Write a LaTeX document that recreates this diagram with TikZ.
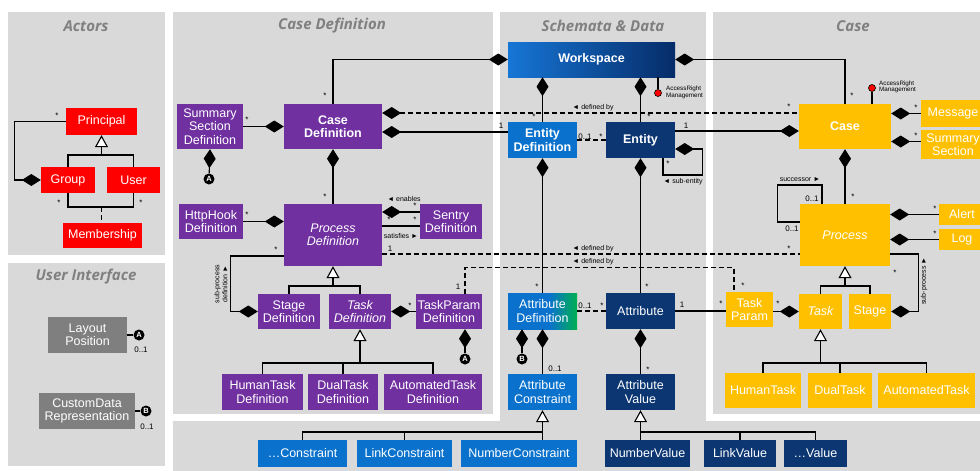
\documentclass[tikz,border=0pt]{standalone}
\usepackage{fontspec}
\setmainfont{Liberation Sans}
\newfontfamily\titlefont{Open Sans}
\usetikzlibrary{arrows.meta,calc}
\definecolor{panelbg}{HTML}{D9D9D9}
\definecolor{titlegray}{HTML}{808080}
\definecolor{actred}{HTML}{FF0000}
\definecolor{defpurple}{HTML}{7030A0}
\definecolor{uigray}{HTML}{7F7F7F}
\definecolor{schblue}{HTML}{0A72CD}
\definecolor{datanavy}{HTML}{0B3672}
\definecolor{caseamber}{HTML}{FFC000}
\definecolor{attrgreen}{HTML}{00B050}
\definecolor{wsleft}{HTML}{1676D6}
\definecolor{wsright}{HTML}{062C68}
\pgfdeclarehorizontalshading{attrdefshade}{100bp}{color(0bp)=(schblue); color(25bp)=(schblue); color(55bp)=(schblue); color(75bp)=(attrgreen); color(100bp)=(attrgreen)}
\begin{document}
\begin{tikzpicture}[x=1pt,y=-1pt,
  box/.style={draw=none, text=white, align=center, inner sep=0pt,
    font=\fontsize{12.5}{13.5}\selectfont},
  ptitle/.style={inner sep=0pt, text=titlegray, font=\titlefont\bfseries\itshape\fontsize{15}{16}\selectfont},
  conn/.style={line width=1.1pt, draw=black},
  comp/.style={conn, {Diamond[length=19pt,width=12pt]}-},
  gen/.style={conn, {Triangle[open,fill=white,length=12pt,width=13pt]}-},
  dashline/.style={conn, dash pattern=on 5pt off 3pt},
  lbl/.style={inner sep=0pt, font=\fontsize{8}{9}\selectfont},
  note/.style={inner sep=0pt, font=\fontsize{7}{8}\selectfont},
  tinytext/.style={inner sep=0pt, align=left, font=\fontsize{6.3}{6.5}\selectfont},
  circ/.style={circle, fill=black, text=white, inner sep=0pt, minimum size=11pt,
    font=\bfseries\fontsize{7.5}{7.5}\selectfont},
  rdot/.style={circle, fill=actred, draw=black, line width=0.6pt, minimum size=7pt, inner sep=0pt}
]
\useasboundingbox (0,0) rectangle (980,471);
\fill[white] (0,0) rectangle (980,471);

% ---------- panels ----------
\fill[panelbg] (8,12) rectangle (165,255);
\fill[panelbg] (8,263) rectangle (165,466);
\fill[panelbg] (173,12) rectangle (493,414);
\fill[panelbg] (500,12) rectangle (706,471);
\fill[panelbg] (173,421) rectangle (980,471);
\fill[panelbg] (713,12) rectangle (980,414);

\node[ptitle] (tact) at (86,26) {Actors};
\node[ptitle] (tui) at (86,277) {User Interface};
\node[ptitle] (tcd) at (332,26) {Case Definition};
\node[ptitle] (tsd) at (603,26) {Schemata \& Data};
\node[ptitle] (tcase) at (853,26) {Case};

% ---------- Actors ----------
\node[box, fill=actred, minimum width=71pt, minimum height=27pt] (principal) at (101.5,121.5) {Principal};
\node[box, fill=actred, minimum width=54pt, minimum height=26pt] (group) at (68,180) {Group};
\node[box, fill=actred, minimum width=53pt, minimum height=26pt] (user) at (133.5,180) {User};
\node[box, fill=actred, minimum width=79pt, minimum height=25pt] (membership) at (102.5,235.5) {Membership};

% ---------- User Interface ----------
\node[box, fill=uigray, minimum width=79pt, minimum height=36pt] (layout) at (87.5,335) {Layout\\Position};
\node[box, fill=uigray, minimum width=96pt, minimum height=36pt] (custom) at (87,411) {CustomData\\Representation};
\node[circ] (ca1) at (139,335) {A};
\node[circ] (cb1) at (146,411) {B};

% ---------- Case Definition ----------
\node[box, fill=defpurple, minimum width=66pt, minimum height=45pt] (ssd) at (210,126.5) {Summary\\Section\\Definition};
\node[box, fill=defpurple, minimum width=98pt, minimum height=45pt, font=\bfseries\fontsize{12.5}{13.5}\selectfont] (casedef) at (333,126.5) {Case\\Definition};
\node[box, fill=defpurple, minimum width=64pt, minimum height=35pt] (httphook) at (211,221.5) {HttpHook\\Definition};
\node[box, fill=defpurple, minimum width=98pt, minimum height=62pt, font=\itshape\fontsize{12.5}{13.5}\selectfont] (procdef) at (333,235) {Process\\Definition};
\node[box, fill=defpurple, minimum width=62pt, minimum height=35pt] (sentry) at (451,221.5) {Sentry\\Definition};
\node[box, fill=defpurple, minimum width=62pt, minimum height=35pt] (stagedef) at (289,311.5) {Stage\\Definition};
\node[box, fill=defpurple, minimum width=62pt, minimum height=35pt, font=\itshape\fontsize{12.5}{13.5}\selectfont] (taskdef) at (360,311.5) {Task\\Definition};
\node[box, fill=defpurple, minimum width=66pt, minimum height=35pt] (tpdef) at (449,311.5) {TaskParam\\Definition};
\node[box, fill=defpurple, minimum width=81pt, minimum height=36pt] (humantd) at (262.5,392) {HumanTask\\Definition};
\node[box, fill=defpurple, minimum width=70pt, minimum height=36pt] (dualtd) at (343,392) {DualTask\\Definition};
\node[box, fill=defpurple, minimum width=98pt, minimum height=36pt] (autotd) at (433,392) {AutomatedTask\\Definition};
\node[circ] (ca2) at (209,179) {A};
\node[circ] (ca3) at (465,359) {A};

% ---------- Schemata & Data ----------
\node[box, left color=wsleft, right color=wsright, minimum width=167pt, minimum height=35pt, font=\bfseries\fontsize{12.5}{13.5}\selectfont] (workspace) at (591.5,59.5) {Workspace};
\node[box, fill=schblue, minimum width=69pt, minimum height=36pt, font=\bfseries\fontsize{12.5}{13.5}\selectfont] (entdef) at (542.5,140) {Entity\\Definition};
\node[box, fill=datanavy, minimum width=69pt, minimum height=36pt, font=\bfseries\fontsize{12.5}{13.5}\selectfont] (entity) at (640.5,140) {Entity};
\node[box, shade, shading=attrdefshade, minimum width=69pt, minimum height=36pt] (attrdef) at (542.5,311) {Attribute\\Definition};
\node[box, fill=datanavy, minimum width=69pt, minimum height=36pt] (attr) at (640.5,311) {Attribute};
\node[box, fill=schblue, minimum width=69pt, minimum height=36pt] (attrcon) at (542.5,392) {Attribute\\Constraint};
\node[box, fill=datanavy, minimum width=69pt, minimum height=36pt] (attrval) at (640.5,392) {Attribute\\Value};
\node[box, fill=schblue, minimum width=89pt, minimum height=27pt] (con1) at (302.5,453.5) {…Constraint};
\node[box, fill=schblue, minimum width=95pt, minimum height=27pt] (con2) at (404.5,453.5) {LinkConstraint};
\node[box, fill=schblue, minimum width=116pt, minimum height=27pt] (con3) at (519,453.5) {NumberConstraint};
\node[box, fill=datanavy, minimum width=85pt, minimum height=27pt] (val1) at (647.5,453.5) {NumberValue};
\node[box, fill=datanavy, minimum width=72pt, minimum height=27pt] (val2) at (740,453.5) {LinkValue};
\node[box, fill=datanavy, minimum width=63pt, minimum height=27pt] (val3) at (815.5,453.5) {…Value};
\node[circ] (cb2) at (522,359) {B};
\node[rdot] (ar1) at (658,93) {};
\node[tinytext, anchor=west] (ar1t) at (666,92.5) {AccessRight\\Management};

% ---------- Case ----------
\node[box, fill=caseamber, minimum width=92pt, minimum height=45pt, font=\bfseries\fontsize{12.5}{13.5}\selectfont] (case) at (845,126.5) {Case};
\node[box, fill=caseamber, minimum width=64pt, minimum height=27pt] (message) at (953,113.5) {Message};
\node[box, fill=caseamber, minimum width=64pt, minimum height=29pt] (summ) at (953,144.5) {Summary\\Section};
\node[box, fill=caseamber, minimum width=90pt, minimum height=62pt, font=\itshape\fontsize{12.5}{13.5}\selectfont] (process) at (845,235) {Process};
\node[box, fill=caseamber, minimum width=46pt, minimum height=21pt] (alert) at (962,214.5) {Alert};
\node[box, fill=caseamber, minimum width=46pt, minimum height=21pt] (log) at (962,239.5) {Log};
\node[box, fill=caseamber, minimum width=47pt, minimum height=35pt] (taskparam) at (749.5,309.5) {Task\\Param};
\node[box, fill=caseamber, minimum width=43pt, minimum height=35pt, font=\itshape\fontsize{12.5}{13.5}\selectfont] (task) at (820.5,311.5) {Task};
\node[box, fill=caseamber, minimum width=42pt, minimum height=35pt] (stage) at (870,311.5) {Stage};
\node[box, fill=caseamber, minimum width=76pt, minimum height=35pt] (humant) at (763,390.5) {HumanTask};
\node[box, fill=caseamber, minimum width=64pt, minimum height=35pt] (dualt) at (840,390.5) {DualTask};
\node[box, fill=caseamber, minimum width=97pt, minimum height=35pt] (autot) at (926.5,390.5) {AutomatedTask};
\node[rdot] (ar2) at (872,88) {};
\node[tinytext, anchor=west] (ar2t) at (879,87) {AccessRight\\Management};

% ---------- junction points ----------
\coordinate (gj) at (101.5,155);
\coordinate (mj) at (101.5,207);
\coordinate (pdj) at (333,286);
\coordinate (tdj) at (360,363);
\coordinate (acj) at (542.5,432);
\coordinate (avj) at (640.5,432);
\coordinate (pj) at (845,286);
\coordinate (tj) at (820.5,363);

% ---------- Actors connectors ----------
\draw[gen] (principal.south) -- (gj);
\draw[conn] (group.north) |- (gj) -| (user.north);
\draw[comp] (group.west) -- ++(-26,0) |- (principal.west);
\draw[conn] (group.south) |- (mj) -| (user.south);
\draw[dashline] (mj) -- (mj |- membership.north);
\node[lbl] (s1) at (57,116) {*};
\node[lbl] (s2) at (59,203) {*};
\node[lbl] (s3) at (141,203) {*};

% ---------- UI connectors ----------
\draw[conn] (layout.east) -- (ca1);
\draw[conn] (custom.east) -- (cb1);
\node[lbl] (m1) at (141,350) {0..1};
\node[lbl] (m2) at (147,427) {0..1};

% ---------- Case Definition connectors ----------
\draw[comp] (workspace.west) -| (casedef.north);
\draw[comp] (casedef.west) -- (ssd.east);
\draw[comp] (ssd.south) -- (ca2);
\draw[comp, dashline] ($(casedef.east)+(0,-13.5)$) -- ($(case.west)+(0,-13.5)$);
\draw[comp] ($(casedef.east)+(0,5.5)$) -- ($(entdef.west)+(0,-8)$);
\draw[comp] (casedef.south) -- (procdef.north);
\draw[comp] (procdef.west |- httphook.east) -- (httphook.east);
\draw[comp] ($(procdef.east |- sentry.west)+(0,-9.5)$) -- ($(sentry.west)+(0,-9.5)$);
\draw[conn] ($(procdef.east |- sentry.west)+(0,4.5)$) -- ($(sentry.west)+(0,4.5)$);
\draw[dashline] ($(procdef.east)+(0,19)$) -- ($(process.west)+(0,19)$);
\draw[comp] (stagedef.west) -- ++(-27,0) |- ($(procdef.west)+(0,21)$);
\draw[gen] (procdef.south) -- (pdj);
\draw[conn] (stagedef.north) |- (pdj) -| (taskdef.north);
\draw[comp] (taskdef.east) -- (tpdef.west);
\draw[dashline] ($(tpdef.north)+(16,0)$) -- ++(0,-26) -| ($(taskparam.north)+(-15.5,0)$);
\draw[comp] ($(tpdef.south)+(16,0)$) -- (ca3);
\draw[gen] (taskdef.south) -- (tdj);
\draw[conn] (humantd.north) |- (tdj) -| (autotd.north);
\draw[conn] (dualtd.north) -- (dualtd.north |- tdj);

\node[lbl] (s4) at (325,96) {*};
\node[lbl] (s5) at (247,120) {*};
\node[lbl] (n1) at (501,126) {1};
\node[note] (d1) at (593,108) {◄ defined by};
\node[lbl] (s6) at (325,197) {*};
\node[lbl] (s7) at (247,215) {*};
\node[note] (en) at (404,199) {◄ enables};
\node[lbl] (s8) at (415,206) {*};
\node[lbl] (s9) at (389,220) {*};
\node[lbl] (s10) at (415,220) {*};
\node[note] (sat) at (401,236) {satisfies ►};
\node[lbl] (n2) at (390,249) {1};
\node[lbl] (s11) at (276,250) {*};
\node[note, rotate=90, align=center] (spd) at (221,284) {sub-process\\definition ►};
\node[lbl] (s12) at (410,306) {*};
\node[lbl] (n3) at (458,287) {1};

% ---------- Schemata & Data connectors ----------
\draw[comp] (workspace.south -| entdef.north) -- (entdef.north);
\draw[comp] (workspace.south -| entity.north) -- (entity.north);
\draw[conn] (ar1) -- (ar1 |- workspace.south);
\draw[comp] (workspace.east) -| (case.north);
\draw[dashline] (entdef.east) -- (entity.west);
\draw[comp] ($(case.west)+(0,4.5)$) -- ($(entity.east)+(0,-9)$);
\draw[comp] ($(entity.east)+(0,9)$) -- ++(27,0) -- ++(0,26) -| ($(entity.south)+(22.5,0)$);
\draw[comp] (entdef.south) -- (attrdef.north);
\draw[comp] (entity.south) -- (attr.north);
\draw[dashline] (attrdef.east) -- (attr.west);
\draw[conn] (attr.east) -- (attr.east -| taskparam.west);
\draw[comp] ($(attrdef.south)+(-20.5,0)$) -- (cb2);
\draw[comp] (attrdef.south) -- (attrcon.north);
\draw[comp] (attr.south) -- (attrval.north);
\draw[gen] (attrcon.south) -- (acj);
\draw[conn] (con1.north) |- (acj) -- (acj |- con3.north);
\draw[conn] (con2.north) -- (con2.north |- acj);
\draw[gen] (attrval.south) -- (avj);
\draw[conn] (avj |- val1.north) -- (avj) -| (val3.north);
\draw[conn] (val2.north) -- (val2.north |- avj);
\node[note] (d2) at (593,249) {◄ defined by};
\node[note] (d3) at (593,262) {◄ defined by};

\node[lbl] (s13) at (534,117) {*};
\node[lbl] (s14) at (649,117) {*};
\node[lbl] (m3) at (585,137) {0..1};
\node[lbl] (s15) at (601,137) {*};
\node[lbl] (n4) at (686,126) {1};
\node[lbl] (s16) at (668,164) {*};
\node[note] (se) at (683,182) {◄ sub-entity};
\node[lbl] (s17) at (537,287) {*};
\node[lbl] (s18) at (647,287) {*};
\node[lbl] (m4) at (585,306) {0..1};
\node[lbl] (s19) at (602,306) {*};
\node[lbl] (n5) at (682,305) {1};
\node[lbl] (m5) at (555,369) {0..1};
\node[lbl] (s20) at (648,370) {*};

% ---------- Case connectors ----------
\draw[conn] (ar2) -- (ar2 |- case.north);
\draw[comp] (case.east |- message.west) -- (message.west);
\draw[comp] ($(case.east |- summ.west)+(0,-3)$) -- ($(summ.west)+(0,-3)$);
\draw[comp] (case.south) -- (process.north);
\draw[comp] (process.east |- alert.west) -- (alert.west);
\draw[comp] (process.east |- log.west) -- (log.west);
\draw[conn] ($(process.west)+(0,-13)$) -- ++(-22,0) -- ++(0,-37) -| ($(process.north)+(-23,0)$);
\draw[comp] (task.west) -- (taskparam.east |- task.west);
\draw[gen] (process.south) -- (pj);
\draw[conn] (task.north) |- (pj) -| (stage.north);
\draw[comp] (stage.east) -- ++(27,0) |- ($(process.east)+(0,19)$);
\draw[gen] (task.south) -- (tj);
\draw[conn] (humant.north) |- (tj) -| (autot.north);
\draw[conn] (dualt.north) -- (dualt.north |- tj);

\node[lbl] (s21) at (789,107) {*};
\node[lbl] (s22) at (852,96) {*};
\node[lbl] (s23) at (916,108) {*};
\node[lbl] (s24) at (916,136) {*};
\node[lbl] (s25) at (853,197) {*};
\node[note] (suc) at (800,180) {successor ►};
\node[lbl] (m6) at (812,199) {0..1};
\node[lbl] (m7) at (792,229) {0..1};
\node[lbl] (s26) at (935,209) {*};
\node[lbl] (s27) at (935,234) {*};
\node[lbl] (s28) at (789,249) {*};
\node[lbl] (s29) at (743,286) {*};
\node[lbl] (s30) at (721,304) {*};
\node[lbl] (s31) at (778,304) {*};
\node[lbl] (s32) at (895,273) {*};
\node[note, rotate=90] (sp) at (924,281) {sub-process ►};
\end{tikzpicture}
\end{document}
